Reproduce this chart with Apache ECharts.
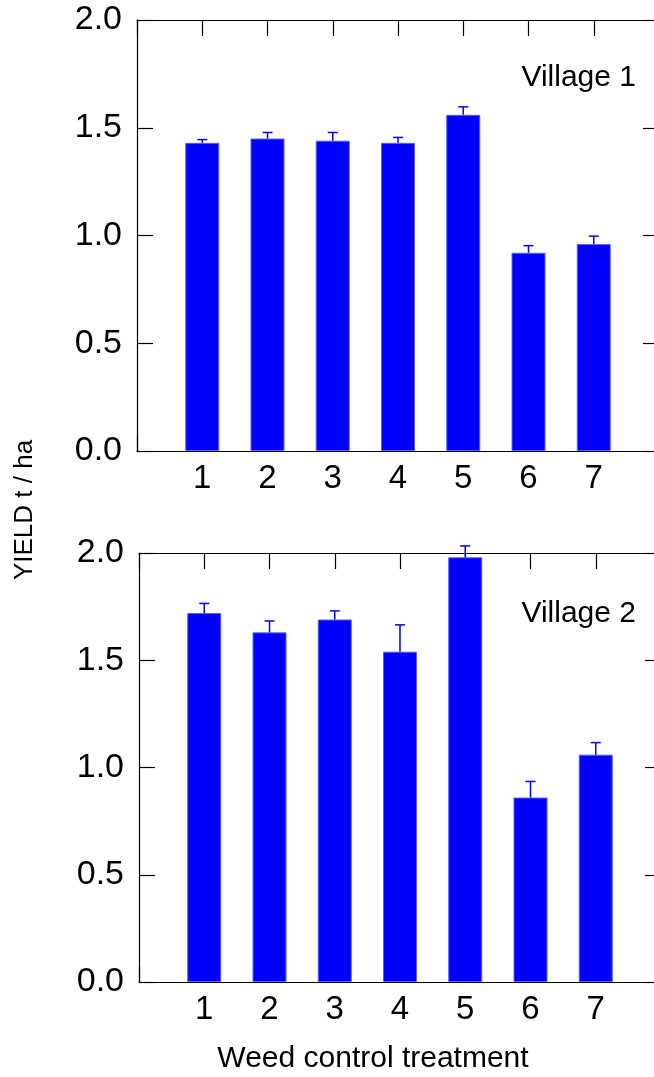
<!DOCTYPE html>
<html>
<head>
<meta charset="utf-8">
<script src="https://cdn.jsdelivr.net/npm/echarts@6/dist/echarts.min.js"></script>
<style>
  html, body { margin: 0; padding: 0; background: #ffffff; overflow: hidden; }
  #chart { width: 654px; height: 1077px; }
</style>
</head>
<body>
<div id="chart"></div>
<script>
// Grain yield (t/ha) per weed control treatment, with standard errors
const treatments = [1, 2, 3, 4, 5, 6, 7];
const village1Yield = [1.43, 1.45, 1.44, 1.43, 1.56, 0.92, 0.96];
const village1Err   = [0.015, 0.028, 0.038, 0.025, 0.037, 0.033, 0.037];
const village2Yield = [1.72, 1.63, 1.69, 1.54, 1.98, 0.86, 1.06];
const village2Err   = [0.045, 0.053, 0.040, 0.125, 0.053, 0.075, 0.056];
const yTickLabels = ['0.0', '0.5', '1.0', '1.5', '2.0'];
const panelNames = ['Village 1', 'Village 2'];

const FONT = '"Liberation Sans", Arial, Helvetica, sans-serif';
const BLUE = '#0000ff';

const chart = echarts.init(document.getElementById('chart'), null, { renderer: 'canvas' });

// the frame runs slightly past the right edge of the page
const grids = [
  { left: 137, top: 20, width: 522, height: 431, containLabel: false, outerBoundsMode: 'none' },
  { left: 139, top: 553, width: 522, height: 429, containLabel: false, outerBoundsMode: 'none' }
];

const lineStyle = { color: '#000', width: 1.2 };
const tickStyle = { show: true, inside: true, length: 16, lineStyle: { color: '#000', width: 1.2 } };

const xAxes = [];
const yAxes = [];
grids.forEach((g, gi) => {
  // bottom axis with treatment numbers
  xAxes.push({
    gridIndex: gi, type: 'value', min: 0, max: 8, interval: 1, position: 'bottom',
    axisLine: { show: true, onZero: false, lineStyle },
    axisTick: tickStyle,
    splitLine: { show: false },
    axisLabel: {
      show: true, margin: 11, color: '#000', fontSize: 33, fontFamily: FONT,
      formatter: v => (treatments.indexOf(v) >= 0 ? String(v) : '')
    }
  });
  // top frame axis
  xAxes.push({
    gridIndex: gi, type: 'value', min: 0, max: 8, interval: 1, position: 'top',
    axisLine: { show: true, onZero: false, lineStyle },
    axisTick: tickStyle,
    splitLine: { show: false },
    axisLabel: { show: false }
  });
  // left yield axis
  yAxes.push({
    gridIndex: gi, type: 'value', min: 0, max: 2, interval: 0.5, position: 'left',
    axisLine: { show: true, onZero: false, lineStyle },
    axisTick: tickStyle,
    splitLine: { show: false },
    axisLabel: {
      show: true, margin: 15, color: '#000', fontSize: 34, fontFamily: FONT,
      formatter: v => yTickLabels[Math.round(v / 0.5)]
    }
  });
  // right frame axis
  yAxes.push({
    gridIndex: gi, type: 'value', min: 0, max: 2, interval: 0.5, position: 'right',
    axisLine: { show: true, onZero: false, lineStyle },
    axisTick: tickStyle,
    splitLine: { show: false },
    axisLabel: { show: false }
  });
});

function barSeries(values, gi) {
  return {
    type: 'bar',
    xAxisIndex: gi * 2, yAxisIndex: gi * 2,
    barWidth: 34,
    itemStyle: { color: BLUE, borderColor: '#5c5cff', borderWidth: 1 },
    data: treatments.map((t, i) => [t, values[i]]),
    z: 3
  };
}

function errorSeries(values, errs, gi) {
  return {
    type: 'custom',
    xAxisIndex: gi * 2, yAxisIndex: gi * 2,
    data: treatments.map((t, i) => [t, values[i], values[i] + errs[i]]),
    renderItem: (params, api) => {
      const base = api.coord([api.value(0), api.value(1)]);
      const top = api.coord([api.value(0), api.value(2)]);
      const half = 5;
      const style = { stroke: BLUE, lineWidth: 1.5 };
      return {
        type: 'group',
        children: [
          { type: 'line', shape: { x1: base[0], y1: base[1], x2: top[0], y2: top[1] }, style },
          { type: 'line', shape: { x1: top[0] - half, y1: top[1], x2: top[0] + half, y2: top[1] }, style }
        ]
      };
    },
    z: 4
  };
}

const option = {
  animation: false,
  backgroundColor: '#ffffff',
  grid: grids,
  xAxis: xAxes,
  yAxis: yAxes,
  series: [
    barSeries(village1Yield, 0),
    errorSeries(village1Yield, village1Err, 0),
    barSeries(village2Yield, 1),
    errorSeries(village2Yield, village2Err, 1)
  ],
  graphic: [
    {
      type: 'text', x: 636, y: 78,
      style: { text: panelNames[0], font: '30px ' + FONT, fill: '#000', textAlign: 'right', textVerticalAlign: 'middle' }
    },
    {
      type: 'text', x: 636, y: 614,
      style: { text: panelNames[1], font: '30px ' + FONT, fill: '#000', textAlign: 'right', textVerticalAlign: 'middle' }
    },
    {
      type: 'text', x: 25, y: 510, rotation: Math.PI / 2,
      style: { text: 'YIELD t / ha', font: '26px ' + FONT, fill: '#000', textAlign: 'center', textVerticalAlign: 'middle' }
    },
    {
      type: 'text', x: 373, y: 1059,
      style: { text: 'Weed control treatment', font: '30px ' + FONT, fill: '#000', textAlign: 'center', textVerticalAlign: 'middle' }
    }
  ]
};

chart.setOption(option);
</script>
</body>
</html>
